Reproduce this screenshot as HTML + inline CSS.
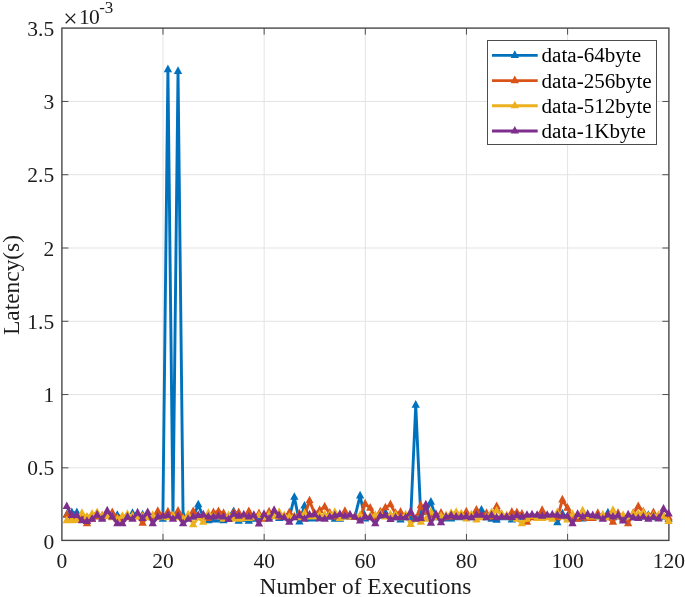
<!DOCTYPE html>
<html lang="en"><head><meta charset="utf-8"><title>Latency vs Number of Executions</title>
<style>
html,body{margin:0;padding:0;background:#fff;}
body{width:685px;height:597px;overflow:hidden;font-family:"Liberation Serif", "Times New Roman", serif;}
svg text{white-space:pre;}
</style></head><body>
<svg width="685" height="597" viewBox="0 0 685 597" style="display:block">
<rect x="0" y="0" width="685" height="597" fill="#ffffff"/>
<path d="M163.00 28.1V540.4 M264.15 28.1V540.4 M365.30 28.1V540.4 M466.45 28.1V540.4 M567.60 28.1V540.4 M61.9 467.83H668.9 M61.9 394.55H668.9 M61.9 321.27H668.9 M61.9 248.00H668.9 M61.9 174.73H668.9 M61.9 101.45H668.9" stroke="#e3e3e3" stroke-width="1" fill="none"/>
<path d="M163.00 540.4v-6.5M163.00 28.1v6.5 M264.15 540.4v-6.5M264.15 28.1v6.5 M365.30 540.4v-6.5M365.30 28.1v6.5 M466.45 540.4v-6.5M466.45 28.1v6.5 M567.60 540.4v-6.5M567.60 28.1v6.5 M61.9 467.83h6.5M668.9 467.83h-6.5 M61.9 394.55h6.5M668.9 394.55h-6.5 M61.9 321.27h6.5M668.9 321.27h-6.5 M61.9 248.00h6.5M668.9 248.00h-6.5 M61.9 174.73h6.5M668.9 174.73h-6.5 M61.9 101.45h6.5M668.9 101.45h-6.5" stroke="#4d4d4d" stroke-width="1" fill="none"/>
<rect x="61.9" y="28.1" width="607.00" height="512.30" fill="none" stroke="#484848" stroke-width="1.4"/>
<g>
<polyline points="66.76,514.84 71.81,512.65 76.87,512.65 81.93,517.77 86.99,517.77 92.05,517.04 97.10,516.31 102.16,517.77 107.22,516.31 112.28,516.31 117.33,515.28 122.39,517.77 127.45,517.04 132.50,513.38 137.56,516.31 142.62,514.84 147.68,516.31 152.74,517.77 157.79,517.04 162.85,519.23 167.91,69.61 172.97,515.28 178.02,71.47 183.08,515.28 188.14,517.77 193.19,517.04 198.25,504.75 203.31,517.04 208.37,520.69 213.43,519.96 218.48,519.96 223.54,520.69 228.60,517.77 233.66,511.48 238.71,521.13 243.77,519.23 248.83,521.13 253.88,519.23 258.94,517.77 264.00,517.04 269.06,517.77 274.12,516.31 279.17,518.50 284.23,517.77 289.29,517.77 294.35,497.29 299.40,521.86 304.46,506.07 309.52,518.94 314.57,518.94 319.63,517.04 324.69,516.31 329.75,517.04 334.81,519.23 339.86,519.23 344.92,517.04 349.98,517.04 355.03,516.31 360.09,495.97 365.15,518.94 370.21,517.04 375.26,517.77 380.32,516.31 385.38,512.65 390.44,516.31 395.50,517.77 400.55,519.96 405.61,517.77 410.67,518.50 415.73,405.20 420.78,516.31 425.84,511.92 430.90,502.12 435.95,517.77 441.01,517.77 446.07,518.94 451.13,518.94 456.19,517.77 461.24,517.77 466.30,517.77 471.36,517.77 476.42,516.31 481.47,510.02 486.53,517.77 491.59,519.23 496.64,520.26 501.70,517.77 506.76,517.77 511.82,519.96 516.88,517.77 521.93,517.77 526.99,517.04 532.05,516.31 537.11,517.04 542.16,517.04 547.22,517.04 552.28,517.04 557.34,522.74 562.39,513.82 567.45,517.77 572.51,517.77 577.57,518.94 582.62,518.94 587.68,517.04 592.74,517.04 597.80,517.04 602.85,517.77 607.91,512.94 612.97,517.77 618.03,517.04 623.08,517.77 628.14,517.04 633.20,517.77 638.26,517.77 643.31,517.04 648.37,515.28 653.43,517.77 658.49,517.77 663.54,517.04 668.60,519.23" fill="none" stroke="#0072BD" stroke-width="2.9" stroke-linejoin="round"/>
<path d="M66.76 509.74L62.61 517.39H70.91ZM71.81 507.55L67.66 515.20H75.97ZM76.87 507.55L72.72 515.20H81.02ZM81.93 512.67L77.78 520.32H86.08ZM86.99 512.67L82.84 520.32H91.14ZM92.05 511.94L87.89 519.59H96.20ZM97.10 511.21L92.95 518.86H101.25ZM102.16 512.67L98.01 520.32H106.31ZM107.22 511.21L103.07 518.86H111.37ZM112.28 511.21L108.12 518.86H116.43ZM117.33 510.18L113.18 517.83H121.48ZM122.39 512.67L118.24 520.32H126.54ZM127.45 511.94L123.30 519.59H131.60ZM132.50 508.28L128.35 515.93H136.66ZM137.56 511.21L133.41 518.86H141.71ZM142.62 509.74L138.47 517.39H146.77ZM147.68 511.21L143.53 518.86H151.83ZM152.74 512.67L148.59 520.32H156.89ZM157.79 511.94L153.64 519.59H161.94ZM162.85 514.13L158.70 521.78H167.00ZM167.91 64.51L163.76 72.16H172.06ZM172.97 510.18L168.81 517.83H177.12ZM178.02 66.37L173.87 74.02H182.17ZM183.08 510.18L178.93 517.83H187.23ZM188.14 512.67L183.99 520.32H192.29ZM193.19 511.94L189.04 519.59H197.34ZM198.25 499.65L194.10 507.30H202.40ZM203.31 511.94L199.16 519.59H207.46ZM208.37 515.59L204.22 523.24H212.52ZM213.43 514.86L209.28 522.51H217.58ZM218.48 514.86L214.33 522.51H222.63ZM223.54 515.59L219.39 523.24H227.69ZM228.60 512.67L224.45 520.32H232.75ZM233.66 506.38L229.51 514.03H237.81ZM238.71 516.03L234.56 523.68H242.86ZM243.77 514.13L239.62 521.78H247.92ZM248.83 516.03L244.68 523.68H252.98ZM253.88 514.13L249.73 521.78H258.03ZM258.94 512.67L254.79 520.32H263.09ZM264.00 511.94L259.85 519.59H268.15ZM269.06 512.67L264.91 520.32H273.21ZM274.12 511.21L269.97 518.86H278.26ZM279.17 513.40L275.02 521.05H283.32ZM284.23 512.67L280.08 520.32H288.38ZM289.29 512.67L285.14 520.32H293.44ZM294.35 492.19L290.20 499.84H298.50ZM299.40 516.76L295.25 524.41H303.55ZM304.46 500.97L300.31 508.62H308.61ZM309.52 513.84L305.37 521.49H313.67ZM314.57 513.84L310.43 521.49H318.72ZM319.63 511.94L315.48 519.59H323.78ZM324.69 511.21L320.54 518.86H328.84ZM329.75 511.94L325.60 519.59H333.90ZM334.81 514.13L330.66 521.78H338.95ZM339.86 514.13L335.71 521.78H344.01ZM344.92 511.94L340.77 519.59H349.07ZM349.98 511.94L345.83 519.59H354.13ZM355.03 511.21L350.88 518.86H359.18ZM360.09 490.87L355.94 498.52H364.24ZM365.15 513.84L361.00 521.49H369.30ZM370.21 511.94L366.06 519.59H374.36ZM375.26 512.67L371.12 520.32H379.41ZM380.32 511.21L376.17 518.86H384.47ZM385.38 507.55L381.23 515.20H389.53ZM390.44 511.21L386.29 518.86H394.59ZM395.50 512.67L391.35 520.32H399.64ZM400.55 514.86L396.40 522.51H404.70ZM405.61 512.67L401.46 520.32H409.76ZM410.67 513.40L406.52 521.05H414.82ZM415.73 400.10L411.58 407.75H419.88ZM420.78 511.21L416.63 518.86H424.93ZM425.84 506.82L421.69 514.47H429.99ZM430.90 497.02L426.75 504.67H435.05ZM435.95 512.67L431.81 520.32H440.10ZM441.01 512.67L436.86 520.32H445.16ZM446.07 513.84L441.92 521.49H450.22ZM451.13 513.84L446.98 521.49H455.28ZM456.19 512.67L452.04 520.32H460.33ZM461.24 512.67L457.09 520.32H465.39ZM466.30 512.67L462.15 520.32H470.45ZM471.36 512.67L467.21 520.32H475.51ZM476.42 511.21L472.27 518.86H480.56ZM481.47 504.92L477.32 512.57H485.62ZM486.53 512.67L482.38 520.32H490.68ZM491.59 514.13L487.44 521.78H495.74ZM496.64 515.16L492.50 522.81H500.79ZM501.70 512.67L497.55 520.32H505.85ZM506.76 512.67L502.61 520.32H510.91ZM511.82 514.86L507.67 522.51H515.97ZM516.88 512.67L512.73 520.32H521.02ZM521.93 512.67L517.78 520.32H526.08ZM526.99 511.94L522.84 519.59H531.14ZM532.05 511.21L527.90 518.86H536.20ZM537.11 511.94L532.96 519.59H541.25ZM542.16 511.94L538.01 519.59H546.31ZM547.22 511.94L543.07 519.59H551.37ZM552.28 511.94L548.13 519.59H556.43ZM557.34 517.64L553.19 525.29H561.49ZM562.39 508.72L558.24 516.37H566.54ZM567.45 512.67L563.30 520.32H571.60ZM572.51 512.67L568.36 520.32H576.66ZM577.57 513.84L573.42 521.49H581.72ZM582.62 513.84L578.47 521.49H586.77ZM587.68 511.94L583.53 519.59H591.83ZM592.74 511.94L588.59 519.59H596.89ZM597.80 511.94L593.65 519.59H601.95ZM602.85 512.67L598.70 520.32H607.00ZM607.91 507.84L603.76 515.49H612.06ZM612.97 512.67L608.82 520.32H617.12ZM618.03 511.94L613.88 519.59H622.18ZM623.08 512.67L618.93 520.32H627.23ZM628.14 511.94L623.99 519.59H632.29ZM633.20 512.67L629.05 520.32H637.35ZM638.26 512.67L634.11 520.32H642.41ZM643.31 511.94L639.16 519.59H647.46ZM648.37 510.18L644.22 517.83H652.52ZM653.43 512.67L649.28 520.32H657.58ZM658.49 512.67L654.34 520.32H662.63ZM663.54 511.94L659.39 519.59H667.69ZM668.60 514.13L664.45 521.78H672.75Z" fill="#0072BD"/>
<polyline points="66.76,515.28 71.81,517.77 76.87,517.77 81.93,519.23 86.99,523.62 92.05,519.23 97.10,517.04 102.16,515.87 107.22,516.31 112.28,512.65 117.33,517.77 122.39,519.23 127.45,517.77 132.50,517.77 137.56,516.31 142.62,523.18 147.68,516.31 152.74,517.77 157.79,511.33 162.85,516.31 167.91,511.92 172.97,517.04 178.02,511.19 183.08,517.77 188.14,517.04 193.19,511.48 198.25,516.31 203.31,517.04 208.37,518.50 213.43,512.65 218.48,511.48 223.54,513.38 228.60,517.77 233.66,512.65 238.71,512.65 243.77,517.04 248.83,511.48 253.88,517.04 258.94,513.67 264.00,519.23 269.06,511.92 274.12,515.57 279.17,517.04 284.23,517.04 289.29,512.65 294.35,517.04 299.40,513.82 304.46,516.31 309.52,500.80 314.57,513.38 319.63,510.45 324.69,506.94 329.75,513.09 334.81,517.04 339.86,517.04 344.92,511.33 349.98,517.04 355.03,517.33 360.09,517.77 365.15,503.87 370.21,508.11 375.26,517.77 380.32,511.92 385.38,507.82 390.44,504.60 395.50,513.38 400.55,512.21 405.61,516.31 410.67,513.38 415.73,519.23 420.78,505.63 425.84,511.92 430.90,516.31 435.95,517.04 441.01,513.09 446.07,517.77 451.13,517.04 456.19,517.04 461.24,517.04 466.30,511.92 471.36,517.04 476.42,510.02 481.47,516.31 486.53,513.38 491.59,517.04 496.64,506.50 501.70,516.31 506.76,517.04 511.82,512.21 516.88,512.65 521.93,514.11 526.99,522.30 532.05,517.77 537.11,517.04 542.16,510.45 547.22,517.04 552.28,517.04 557.34,517.77 562.39,499.92 567.45,508.11 572.51,517.77 577.57,519.23 582.62,517.77 587.68,518.50 592.74,518.50 597.80,513.38 602.85,517.77 607.91,517.77 612.97,522.16 618.03,513.38 623.08,519.23 628.14,523.62 633.20,513.38 638.26,506.50 643.31,511.92 648.37,517.04 653.43,512.65 658.49,517.77 663.54,516.31 668.60,517.77" fill="none" stroke="#D95319" stroke-width="2.9" stroke-linejoin="round"/>
<path d="M66.76 510.18L62.61 517.83H70.91ZM71.81 512.67L67.66 520.32H75.97ZM76.87 512.67L72.72 520.32H81.02ZM81.93 514.13L77.78 521.78H86.08ZM86.99 518.52L82.84 526.17H91.14ZM92.05 514.13L87.89 521.78H96.20ZM97.10 511.94L92.95 519.59H101.25ZM102.16 510.77L98.01 518.42H106.31ZM107.22 511.21L103.07 518.86H111.37ZM112.28 507.55L108.12 515.20H116.43ZM117.33 512.67L113.18 520.32H121.48ZM122.39 514.13L118.24 521.78H126.54ZM127.45 512.67L123.30 520.32H131.60ZM132.50 512.67L128.35 520.32H136.66ZM137.56 511.21L133.41 518.86H141.71ZM142.62 518.08L138.47 525.73H146.77ZM147.68 511.21L143.53 518.86H151.83ZM152.74 512.67L148.59 520.32H156.89ZM157.79 506.23L153.64 513.88H161.94ZM162.85 511.21L158.70 518.86H167.00ZM167.91 506.82L163.76 514.47H172.06ZM172.97 511.94L168.81 519.59H177.12ZM178.02 506.09L173.87 513.74H182.17ZM183.08 512.67L178.93 520.32H187.23ZM188.14 511.94L183.99 519.59H192.29ZM193.19 506.38L189.04 514.03H197.34ZM198.25 511.21L194.10 518.86H202.40ZM203.31 511.94L199.16 519.59H207.46ZM208.37 513.40L204.22 521.05H212.52ZM213.43 507.55L209.28 515.20H217.58ZM218.48 506.38L214.33 514.03H222.63ZM223.54 508.28L219.39 515.93H227.69ZM228.60 512.67L224.45 520.32H232.75ZM233.66 507.55L229.51 515.20H237.81ZM238.71 507.55L234.56 515.20H242.86ZM243.77 511.94L239.62 519.59H247.92ZM248.83 506.38L244.68 514.03H252.98ZM253.88 511.94L249.73 519.59H258.03ZM258.94 508.57L254.79 516.22H263.09ZM264.00 514.13L259.85 521.78H268.15ZM269.06 506.82L264.91 514.47H273.21ZM274.12 510.47L269.97 518.12H278.26ZM279.17 511.94L275.02 519.59H283.32ZM284.23 511.94L280.08 519.59H288.38ZM289.29 507.55L285.14 515.20H293.44ZM294.35 511.94L290.20 519.59H298.50ZM299.40 508.72L295.25 516.37H303.55ZM304.46 511.21L300.31 518.86H308.61ZM309.52 495.70L305.37 503.35H313.67ZM314.57 508.28L310.43 515.93H318.72ZM319.63 505.35L315.48 513.00H323.78ZM324.69 501.84L320.54 509.49H328.84ZM329.75 507.99L325.60 515.64H333.90ZM334.81 511.94L330.66 519.59H338.95ZM339.86 511.94L335.71 519.59H344.01ZM344.92 506.23L340.77 513.88H349.07ZM349.98 511.94L345.83 519.59H354.13ZM355.03 512.23L350.88 519.88H359.18ZM360.09 512.67L355.94 520.32H364.24ZM365.15 498.77L361.00 506.42H369.30ZM370.21 503.01L366.06 510.66H374.36ZM375.26 512.67L371.12 520.32H379.41ZM380.32 506.82L376.17 514.47H384.47ZM385.38 502.72L381.23 510.37H389.53ZM390.44 499.50L386.29 507.15H394.59ZM395.50 508.28L391.35 515.93H399.64ZM400.55 507.11L396.40 514.76H404.70ZM405.61 511.21L401.46 518.86H409.76ZM410.67 508.28L406.52 515.93H414.82ZM415.73 514.13L411.58 521.78H419.88ZM420.78 500.53L416.63 508.18H424.93ZM425.84 506.82L421.69 514.47H429.99ZM430.90 511.21L426.75 518.86H435.05ZM435.95 511.94L431.81 519.59H440.10ZM441.01 507.99L436.86 515.64H445.16ZM446.07 512.67L441.92 520.32H450.22ZM451.13 511.94L446.98 519.59H455.28ZM456.19 511.94L452.04 519.59H460.33ZM461.24 511.94L457.09 519.59H465.39ZM466.30 506.82L462.15 514.47H470.45ZM471.36 511.94L467.21 519.59H475.51ZM476.42 504.92L472.27 512.57H480.56ZM481.47 511.21L477.32 518.86H485.62ZM486.53 508.28L482.38 515.93H490.68ZM491.59 511.94L487.44 519.59H495.74ZM496.64 501.40L492.50 509.05H500.79ZM501.70 511.21L497.55 518.86H505.85ZM506.76 511.94L502.61 519.59H510.91ZM511.82 507.11L507.67 514.76H515.97ZM516.88 507.55L512.73 515.20H521.02ZM521.93 509.01L517.78 516.66H526.08ZM526.99 517.20L522.84 524.85H531.14ZM532.05 512.67L527.90 520.32H536.20ZM537.11 511.94L532.96 519.59H541.25ZM542.16 505.35L538.01 513.00H546.31ZM547.22 511.94L543.07 519.59H551.37ZM552.28 511.94L548.13 519.59H556.43ZM557.34 512.67L553.19 520.32H561.49ZM562.39 494.82L558.24 502.47H566.54ZM567.45 503.01L563.30 510.66H571.60ZM572.51 512.67L568.36 520.32H576.66ZM577.57 514.13L573.42 521.78H581.72ZM582.62 512.67L578.47 520.32H586.77ZM587.68 513.40L583.53 521.05H591.83ZM592.74 513.40L588.59 521.05H596.89ZM597.80 508.28L593.65 515.93H601.95ZM602.85 512.67L598.70 520.32H607.00ZM607.91 512.67L603.76 520.32H612.06ZM612.97 517.06L608.82 524.71H617.12ZM618.03 508.28L613.88 515.93H622.18ZM623.08 514.13L618.93 521.78H627.23ZM628.14 518.52L623.99 526.17H632.29ZM633.20 508.28L629.05 515.93H637.35ZM638.26 501.40L634.11 509.05H642.41ZM643.31 506.82L639.16 514.47H647.46ZM648.37 511.94L644.22 519.59H652.52ZM653.43 507.55L649.28 515.20H657.58ZM658.49 512.67L654.34 520.32H662.63ZM663.54 511.21L659.39 518.86H667.69ZM668.60 512.67L664.45 520.32H672.75Z" fill="#D95319"/>
<polyline points="66.76,520.69 71.81,520.69 76.87,520.40 81.93,513.38 86.99,517.04 92.05,514.11 97.10,512.65 102.16,516.31 107.22,516.60 112.28,517.77 117.33,519.23 122.39,516.31 127.45,514.40 132.50,516.01 137.56,517.04 142.62,516.31 147.68,517.77 152.74,515.28 157.79,517.77 162.85,517.04 167.91,517.77 172.97,515.57 178.02,517.77 183.08,519.23 188.14,514.84 193.19,524.64 198.25,517.77 203.31,522.16 208.37,513.38 213.43,516.31 218.48,517.04 223.54,519.23 228.60,515.57 233.66,519.23 238.71,519.23 243.77,518.50 248.83,518.50 253.88,517.77 258.94,515.57 264.00,517.77 269.06,514.84 274.12,516.74 279.17,512.36 284.23,515.72 289.29,517.04 294.35,516.31 299.40,517.77 304.46,513.38 309.52,517.04 314.57,517.04 319.63,514.84 324.69,514.84 329.75,514.84 334.81,512.36 339.86,518.50 344.92,516.74 349.98,516.74 355.03,516.74 360.09,515.28 365.15,517.04 370.21,516.31 375.26,515.28 380.32,513.82 385.38,517.04 390.44,514.84 395.50,514.84 400.55,517.77 405.61,514.84 410.67,524.50 415.73,519.23 420.78,522.30 425.84,519.23 430.90,511.92 435.95,517.77 441.01,516.31 446.07,515.72 451.13,513.38 456.19,512.36 461.24,513.82 466.30,518.94 471.36,514.84 476.42,519.96 481.47,517.77 486.53,517.04 491.59,512.65 496.64,510.89 501.70,514.11 506.76,515.57 511.82,517.77 516.88,519.23 521.93,523.62 526.99,519.23 532.05,516.31 537.11,518.50 542.16,518.50 547.22,517.77 552.28,519.23 557.34,512.65 562.39,517.04 567.45,519.96 572.51,514.40 577.57,516.31 582.62,510.89 587.68,517.04 592.74,517.04 597.80,517.04 602.85,514.84 607.91,517.77 612.97,510.45 618.03,517.04 623.08,515.28 628.14,517.04 633.20,513.82 638.26,514.11 643.31,512.65 648.37,516.31 653.43,515.57 658.49,515.28 663.54,516.31 668.60,521.57" fill="none" stroke="#EDB120" stroke-width="2.9" stroke-linejoin="round"/>
<path d="M66.76 515.59L62.61 523.24H70.91ZM71.81 515.59L67.66 523.24H75.97ZM76.87 515.30L72.72 522.95H81.02ZM81.93 508.28L77.78 515.93H86.08ZM86.99 511.94L82.84 519.59H91.14ZM92.05 509.01L87.89 516.66H96.20ZM97.10 507.55L92.95 515.20H101.25ZM102.16 511.21L98.01 518.86H106.31ZM107.22 511.50L103.07 519.15H111.37ZM112.28 512.67L108.12 520.32H116.43ZM117.33 514.13L113.18 521.78H121.48ZM122.39 511.21L118.24 518.86H126.54ZM127.45 509.30L123.30 516.95H131.60ZM132.50 510.91L128.35 518.56H136.66ZM137.56 511.94L133.41 519.59H141.71ZM142.62 511.21L138.47 518.86H146.77ZM147.68 512.67L143.53 520.32H151.83ZM152.74 510.18L148.59 517.83H156.89ZM157.79 512.67L153.64 520.32H161.94ZM162.85 511.94L158.70 519.59H167.00ZM167.91 512.67L163.76 520.32H172.06ZM172.97 510.47L168.81 518.12H177.12ZM178.02 512.67L173.87 520.32H182.17ZM183.08 514.13L178.93 521.78H187.23ZM188.14 509.74L183.99 517.39H192.29ZM193.19 519.54L189.04 527.19H197.34ZM198.25 512.67L194.10 520.32H202.40ZM203.31 517.06L199.16 524.71H207.46ZM208.37 508.28L204.22 515.93H212.52ZM213.43 511.21L209.28 518.86H217.58ZM218.48 511.94L214.33 519.59H222.63ZM223.54 514.13L219.39 521.78H227.69ZM228.60 510.47L224.45 518.12H232.75ZM233.66 514.13L229.51 521.78H237.81ZM238.71 514.13L234.56 521.78H242.86ZM243.77 513.40L239.62 521.05H247.92ZM248.83 513.40L244.68 521.05H252.98ZM253.88 512.67L249.73 520.32H258.03ZM258.94 510.47L254.79 518.12H263.09ZM264.00 512.67L259.85 520.32H268.15ZM269.06 509.74L264.91 517.39H273.21ZM274.12 511.64L269.97 519.29H278.26ZM279.17 507.26L275.02 514.91H283.32ZM284.23 510.62L280.08 518.27H288.38ZM289.29 511.94L285.14 519.59H293.44ZM294.35 511.21L290.20 518.86H298.50ZM299.40 512.67L295.25 520.32H303.55ZM304.46 508.28L300.31 515.93H308.61ZM309.52 511.94L305.37 519.59H313.67ZM314.57 511.94L310.43 519.59H318.72ZM319.63 509.74L315.48 517.39H323.78ZM324.69 509.74L320.54 517.39H328.84ZM329.75 509.74L325.60 517.39H333.90ZM334.81 507.26L330.66 514.91H338.95ZM339.86 513.40L335.71 521.05H344.01ZM344.92 511.64L340.77 519.29H349.07ZM349.98 511.64L345.83 519.29H354.13ZM355.03 511.64L350.88 519.29H359.18ZM360.09 510.18L355.94 517.83H364.24ZM365.15 511.94L361.00 519.59H369.30ZM370.21 511.21L366.06 518.86H374.36ZM375.26 510.18L371.12 517.83H379.41ZM380.32 508.72L376.17 516.37H384.47ZM385.38 511.94L381.23 519.59H389.53ZM390.44 509.74L386.29 517.39H394.59ZM395.50 509.74L391.35 517.39H399.64ZM400.55 512.67L396.40 520.32H404.70ZM405.61 509.74L401.46 517.39H409.76ZM410.67 519.40L406.52 527.05H414.82ZM415.73 514.13L411.58 521.78H419.88ZM420.78 517.20L416.63 524.85H424.93ZM425.84 514.13L421.69 521.78H429.99ZM430.90 506.82L426.75 514.47H435.05ZM435.95 512.67L431.81 520.32H440.10ZM441.01 511.21L436.86 518.86H445.16ZM446.07 510.62L441.92 518.27H450.22ZM451.13 508.28L446.98 515.93H455.28ZM456.19 507.26L452.04 514.91H460.33ZM461.24 508.72L457.09 516.37H465.39ZM466.30 513.84L462.15 521.49H470.45ZM471.36 509.74L467.21 517.39H475.51ZM476.42 514.86L472.27 522.51H480.56ZM481.47 512.67L477.32 520.32H485.62ZM486.53 511.94L482.38 519.59H490.68ZM491.59 507.55L487.44 515.20H495.74ZM496.64 505.79L492.50 513.44H500.79ZM501.70 509.01L497.55 516.66H505.85ZM506.76 510.47L502.61 518.12H510.91ZM511.82 512.67L507.67 520.32H515.97ZM516.88 514.13L512.73 521.78H521.02ZM521.93 518.52L517.78 526.17H526.08ZM526.99 514.13L522.84 521.78H531.14ZM532.05 511.21L527.90 518.86H536.20ZM537.11 513.40L532.96 521.05H541.25ZM542.16 513.40L538.01 521.05H546.31ZM547.22 512.67L543.07 520.32H551.37ZM552.28 514.13L548.13 521.78H556.43ZM557.34 507.55L553.19 515.20H561.49ZM562.39 511.94L558.24 519.59H566.54ZM567.45 514.86L563.30 522.51H571.60ZM572.51 509.30L568.36 516.95H576.66ZM577.57 511.21L573.42 518.86H581.72ZM582.62 505.79L578.47 513.44H586.77ZM587.68 511.94L583.53 519.59H591.83ZM592.74 511.94L588.59 519.59H596.89ZM597.80 511.94L593.65 519.59H601.95ZM602.85 509.74L598.70 517.39H607.00ZM607.91 512.67L603.76 520.32H612.06ZM612.97 505.35L608.82 513.00H617.12ZM618.03 511.94L613.88 519.59H622.18ZM623.08 510.18L618.93 517.83H627.23ZM628.14 511.94L623.99 519.59H632.29ZM633.20 508.72L629.05 516.37H637.35ZM638.26 509.01L634.11 516.66H642.41ZM643.31 507.55L639.16 515.20H647.46ZM648.37 511.21L644.22 518.86H652.52ZM653.43 510.47L649.28 518.12H657.58ZM658.49 510.18L654.34 517.83H662.63ZM663.54 511.21L659.39 518.86H667.69ZM668.60 516.47L664.45 524.12H672.75Z" fill="#EDB120"/>
<polyline points="66.76,506.50 71.81,515.57 76.87,515.57 81.93,520.69 86.99,521.43 92.05,519.23 97.10,514.84 102.16,519.23 107.22,510.89 112.28,517.04 117.33,523.62 122.39,523.62 127.45,517.04 132.50,519.23 137.56,512.94 142.62,518.50 147.68,512.50 152.74,523.62 157.79,517.04 162.85,516.31 167.91,515.57 172.97,519.23 178.02,516.01 183.08,523.62 188.14,519.23 193.19,517.04 198.25,515.57 203.31,514.84 208.37,517.04 213.43,517.04 218.48,516.31 223.54,517.04 228.60,519.52 233.66,514.11 238.71,516.31 243.77,514.84 248.83,517.04 253.88,515.28 258.94,523.91 264.00,514.40 269.06,519.23 274.12,510.45 279.17,515.72 284.23,517.77 289.29,522.30 294.35,517.77 299.40,515.72 304.46,519.23 309.52,514.84 314.57,514.40 319.63,518.79 324.69,519.23 329.75,517.04 334.81,515.72 339.86,514.40 344.92,516.31 349.98,514.84 355.03,517.04 360.09,520.99 365.15,516.60 370.21,517.77 375.26,523.62 380.32,515.72 385.38,515.28 390.44,519.52 395.50,517.77 400.55,517.48 405.61,517.77 410.67,511.92 415.73,519.23 420.78,518.50 425.84,504.75 430.90,523.18 435.95,514.40 441.01,522.74 446.07,517.04 451.13,515.72 456.19,517.04 461.24,517.04 466.30,516.60 471.36,517.77 476.42,515.28 481.47,515.28 486.53,517.77 491.59,515.28 496.64,517.77 501.70,517.04 506.76,517.04 511.82,517.48 516.88,515.72 521.93,517.04 526.99,515.28 532.05,514.84 537.11,515.28 542.16,516.31 547.22,515.28 552.28,514.84 557.34,515.28 562.39,516.31 567.45,516.31 572.51,523.62 577.57,514.40 582.62,517.04 587.68,514.40 592.74,515.72 597.80,516.31 602.85,519.23 607.91,514.84 612.97,517.04 618.03,515.72 623.08,520.99 628.14,514.84 633.20,517.77 638.26,518.50 643.31,517.04 648.37,519.23 653.43,517.04 658.49,518.94 663.54,508.99 668.60,513.96" fill="none" stroke="#7E2F8E" stroke-width="2.9" stroke-linejoin="round"/>
<path d="M66.76 501.40L62.61 509.05H70.91ZM71.81 510.47L67.66 518.12H75.97ZM76.87 510.47L72.72 518.12H81.02ZM81.93 515.59L77.78 523.24H86.08ZM86.99 516.33L82.84 523.98H91.14ZM92.05 514.13L87.89 521.78H96.20ZM97.10 509.74L92.95 517.39H101.25ZM102.16 514.13L98.01 521.78H106.31ZM107.22 505.79L103.07 513.44H111.37ZM112.28 511.94L108.12 519.59H116.43ZM117.33 518.52L113.18 526.17H121.48ZM122.39 518.52L118.24 526.17H126.54ZM127.45 511.94L123.30 519.59H131.60ZM132.50 514.13L128.35 521.78H136.66ZM137.56 507.84L133.41 515.49H141.71ZM142.62 513.40L138.47 521.05H146.77ZM147.68 507.40L143.53 515.05H151.83ZM152.74 518.52L148.59 526.17H156.89ZM157.79 511.94L153.64 519.59H161.94ZM162.85 511.21L158.70 518.86H167.00ZM167.91 510.47L163.76 518.12H172.06ZM172.97 514.13L168.81 521.78H177.12ZM178.02 510.91L173.87 518.56H182.17ZM183.08 518.52L178.93 526.17H187.23ZM188.14 514.13L183.99 521.78H192.29ZM193.19 511.94L189.04 519.59H197.34ZM198.25 510.47L194.10 518.12H202.40ZM203.31 509.74L199.16 517.39H207.46ZM208.37 511.94L204.22 519.59H212.52ZM213.43 511.94L209.28 519.59H217.58ZM218.48 511.21L214.33 518.86H222.63ZM223.54 511.94L219.39 519.59H227.69ZM228.60 514.42L224.45 522.07H232.75ZM233.66 509.01L229.51 516.66H237.81ZM238.71 511.21L234.56 518.86H242.86ZM243.77 509.74L239.62 517.39H247.92ZM248.83 511.94L244.68 519.59H252.98ZM253.88 510.18L249.73 517.83H258.03ZM258.94 518.81L254.79 526.46H263.09ZM264.00 509.30L259.85 516.95H268.15ZM269.06 514.13L264.91 521.78H273.21ZM274.12 505.35L269.97 513.00H278.26ZM279.17 510.62L275.02 518.27H283.32ZM284.23 512.67L280.08 520.32H288.38ZM289.29 517.20L285.14 524.85H293.44ZM294.35 512.67L290.20 520.32H298.50ZM299.40 510.62L295.25 518.27H303.55ZM304.46 514.13L300.31 521.78H308.61ZM309.52 509.74L305.37 517.39H313.67ZM314.57 509.30L310.43 516.95H318.72ZM319.63 513.69L315.48 521.34H323.78ZM324.69 514.13L320.54 521.78H328.84ZM329.75 511.94L325.60 519.59H333.90ZM334.81 510.62L330.66 518.27H338.95ZM339.86 509.30L335.71 516.95H344.01ZM344.92 511.21L340.77 518.86H349.07ZM349.98 509.74L345.83 517.39H354.13ZM355.03 511.94L350.88 519.59H359.18ZM360.09 515.89L355.94 523.54H364.24ZM365.15 511.50L361.00 519.15H369.30ZM370.21 512.67L366.06 520.32H374.36ZM375.26 518.52L371.12 526.17H379.41ZM380.32 510.62L376.17 518.27H384.47ZM385.38 510.18L381.23 517.83H389.53ZM390.44 514.42L386.29 522.07H394.59ZM395.50 512.67L391.35 520.32H399.64ZM400.55 512.38L396.40 520.03H404.70ZM405.61 512.67L401.46 520.32H409.76ZM410.67 506.82L406.52 514.47H414.82ZM415.73 514.13L411.58 521.78H419.88ZM420.78 513.40L416.63 521.05H424.93ZM425.84 499.65L421.69 507.30H429.99ZM430.90 518.08L426.75 525.73H435.05ZM435.95 509.30L431.81 516.95H440.10ZM441.01 517.64L436.86 525.29H445.16ZM446.07 511.94L441.92 519.59H450.22ZM451.13 510.62L446.98 518.27H455.28ZM456.19 511.94L452.04 519.59H460.33ZM461.24 511.94L457.09 519.59H465.39ZM466.30 511.50L462.15 519.15H470.45ZM471.36 512.67L467.21 520.32H475.51ZM476.42 510.18L472.27 517.83H480.56ZM481.47 510.18L477.32 517.83H485.62ZM486.53 512.67L482.38 520.32H490.68ZM491.59 510.18L487.44 517.83H495.74ZM496.64 512.67L492.50 520.32H500.79ZM501.70 511.94L497.55 519.59H505.85ZM506.76 511.94L502.61 519.59H510.91ZM511.82 512.38L507.67 520.03H515.97ZM516.88 510.62L512.73 518.27H521.02ZM521.93 511.94L517.78 519.59H526.08ZM526.99 510.18L522.84 517.83H531.14ZM532.05 509.74L527.90 517.39H536.20ZM537.11 510.18L532.96 517.83H541.25ZM542.16 511.21L538.01 518.86H546.31ZM547.22 510.18L543.07 517.83H551.37ZM552.28 509.74L548.13 517.39H556.43ZM557.34 510.18L553.19 517.83H561.49ZM562.39 511.21L558.24 518.86H566.54ZM567.45 511.21L563.30 518.86H571.60ZM572.51 518.52L568.36 526.17H576.66ZM577.57 509.30L573.42 516.95H581.72ZM582.62 511.94L578.47 519.59H586.77ZM587.68 509.30L583.53 516.95H591.83ZM592.74 510.62L588.59 518.27H596.89ZM597.80 511.21L593.65 518.86H601.95ZM602.85 514.13L598.70 521.78H607.00ZM607.91 509.74L603.76 517.39H612.06ZM612.97 511.94L608.82 519.59H617.12ZM618.03 510.62L613.88 518.27H622.18ZM623.08 515.89L618.93 523.54H627.23ZM628.14 509.74L623.99 517.39H632.29ZM633.20 512.67L629.05 520.32H637.35ZM638.26 513.40L634.11 521.05H642.41ZM643.31 511.94L639.16 519.59H647.46ZM648.37 514.13L644.22 521.78H652.52ZM653.43 511.94L649.28 519.59H657.58ZM658.49 513.84L654.34 521.49H662.63ZM663.54 503.89L659.39 511.54H667.69ZM668.60 508.86L664.45 516.51H672.75Z" fill="#7E2F8E"/>
</g>
<g font-family='"Liberation Serif", "Times New Roman", serif' font-size="21.5" fill="#1c1c1c">
<text x="61.85" y="567.5" text-anchor="middle">0</text>
<text x="163.00" y="567.5" text-anchor="middle">20</text>
<text x="264.15" y="567.5" text-anchor="middle">40</text>
<text x="365.30" y="567.5" text-anchor="middle">60</text>
<text x="466.45" y="567.5" text-anchor="middle">80</text>
<text x="567.60" y="567.5" text-anchor="middle">100</text>
<text x="668.75" y="567.5" text-anchor="middle">120</text>
<text x="54.2" y="548.70" text-anchor="end">0</text>
<text x="54.2" y="475.43" text-anchor="end">0.5</text>
<text x="54.2" y="402.15" text-anchor="end">1</text>
<text x="54.2" y="328.88" text-anchor="end">1.5</text>
<text x="54.2" y="255.60" text-anchor="end">2</text>
<text x="54.2" y="182.33" text-anchor="end">2.5</text>
<text x="54.2" y="109.05" text-anchor="end">3</text>
<text x="54.2" y="35.77" text-anchor="end">3.5</text>
<text x="63.2" y="23.7"><tspan font-size="25.5" dy="3.2">×</tspan><tspan dy="-3.2" dx="1.3" letter-spacing="-0.6">10</tspan><tspan dy="-10.4" font-size="17">-3</tspan></text>
</g>
<g font-family='"Liberation Serif", "Times New Roman", serif' font-size="23.4" fill="#1c1c1c">
<text x="365.40" y="594" text-anchor="middle">Number of Executions</text>
<text transform="translate(19,285) rotate(-90)" text-anchor="middle">Latency(s)</text>
</g>
<rect x="487.5" y="40.5" width="169.0" height="104.0" fill="#ffffff" stroke="#4d4d4d" stroke-width="1"/>
<g font-family='"Liberation Serif", "Times New Roman", serif' font-size="21.1" fill="#000000">
<path d="M492 55.4H537.7" stroke="#0072BD" stroke-width="2.9" fill="none"/>
<path d="M514.8 50.30L510.65 57.95H518.9499999999999Z" fill="#0072BD"/>
<text x="541.5" y="62.30">data-64byte</text>
<path d="M492 80.6H537.7" stroke="#D95319" stroke-width="2.9" fill="none"/>
<path d="M514.8 75.50L510.65 83.15H518.9499999999999Z" fill="#D95319"/>
<text x="541.5" y="87.50">data-256byte</text>
<path d="M492 105.8H537.7" stroke="#EDB120" stroke-width="2.9" fill="none"/>
<path d="M514.8 100.70L510.65 108.35H518.9499999999999Z" fill="#EDB120"/>
<text x="541.5" y="112.70">data-512byte</text>
<path d="M492 131.0H537.7" stroke="#7E2F8E" stroke-width="2.9" fill="none"/>
<path d="M514.8 125.90L510.65 133.55H518.9499999999999Z" fill="#7E2F8E"/>
<text x="541.5" y="137.90">data-1Kbyte</text>
</g>
</svg>
</body></html>
